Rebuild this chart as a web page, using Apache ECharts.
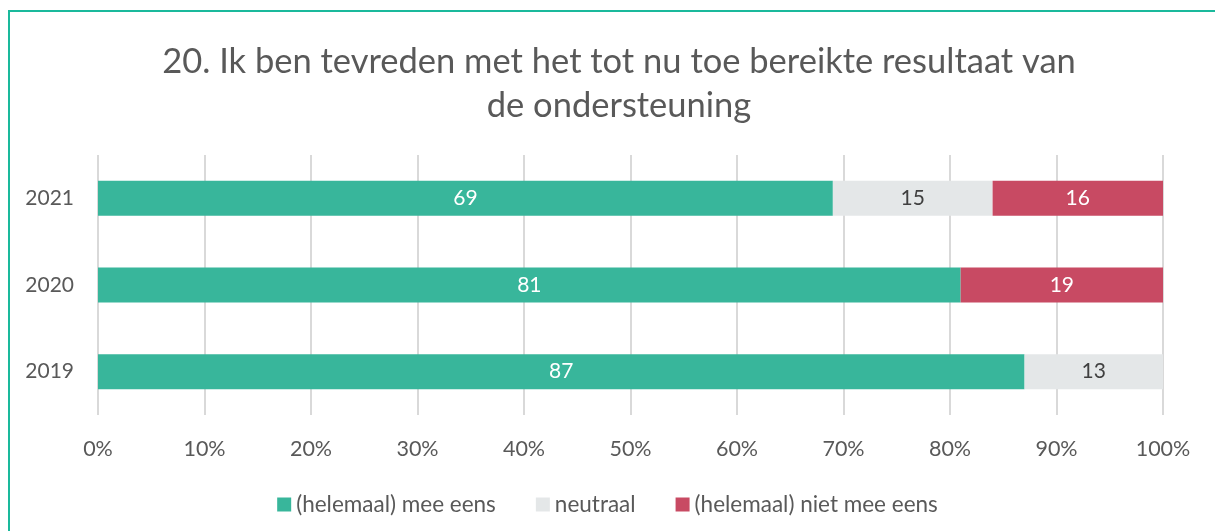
<!DOCTYPE html>
<html>
<head>
<meta charset="utf-8">
<script src="https://cdn.jsdelivr.net/npm/echarts@6/dist/echarts.min.js"></script>
<style>
  html, body { margin: 0; padding: 0; background: #fff; }
  #frame { position: absolute; left: 8px; top: 10px; width: 1215px; height: 531px; border-left: 2px solid #1ab99c; border-top: 2px solid #1ab99c; }
  #chart { position: absolute; left: 0; top: 0; width: 1215px; height: 531px; }
</style>
</head>
<body>
<div id="frame"></div>
<div id="chart"></div>
<script>
const years = ['2019', '2020', '2021'];
const eens = [87, 81, 69];
const neutraal = [13, 0, 15];
const nietEens = [0, 19, 16];
const xTicks = [0, 10, 20, 30, 40, 50, 60, 70, 80, 90, 100];

const chart = echarts.init(document.getElementById('chart'));
const font = 'Lato, "Open Sans", sans-serif';

function bar(name, values, color, labelColor) {
  return {
    name,
    type: 'bar',
    stack: 'total',
    barWidth: 35,
    data: values.map(v => v || null),
    itemStyle: { color },
    label: { show: true, color: labelColor, fontSize: 21, fontFamily: font },
    emphasis: { disabled: true }
  };
}

chart.setOption({
  animation: false,
  textStyle: { fontFamily: font },
  title: {
    text: '20. Ik ben tevreden met het tot nu toe bereikte resultaat van\nde ondersteuning',
    left: 614,
    textAlign: 'center',
    top: 35,
    textStyle: { fontSize: 34.5, fontWeight: 'normal', color: '#595959', lineHeight: 44, fontFamily: font }
  },
  legend: {
    top: 488,
    left: 'center',
    itemWidth: 14,
    itemHeight: 14,
    itemGap: 40,
    icon: 'rect',
    textStyle: { fontSize: 22.5, color: '#595959', fontFamily: font },
    data: ['(helemaal) mee eens', 'neutraal', '(helemaal) niet mee eens']
  },
  grid: { left: 98, right: 52, top: 155, bottom: 116 },
  xAxis: {
    type: 'value',
    min: 0,
    max: 100,
    interval: 10,
    axisLine: { show: false },
    axisTick: { show: false },
    splitLine: { lineStyle: { color: '#d9d9d9', width: 2 } },
    axisLabel: {
      margin: 23,
      fontSize: 21.5,
      color: '#595959',
      formatter: v => xTicks.includes(v) ? v + '%' : ''
    }
  },
  yAxis: {
    type: 'category',
    data: years,
    axisLine: { show: false },
    axisTick: { show: false },
    axisLabel: { margin: 24, fontSize: 21, color: '#595959' }
  },
  series: [
    bar('(helemaal) mee eens', eens, '#38b69b', '#ffffff'),
    bar('neutraal', neutraal, '#e4e7e8', '#404040'),
    bar('(helemaal) niet mee eens', nietEens, '#c84a63', '#ffffff')
  ]
});
</script>
</body>
</html>
